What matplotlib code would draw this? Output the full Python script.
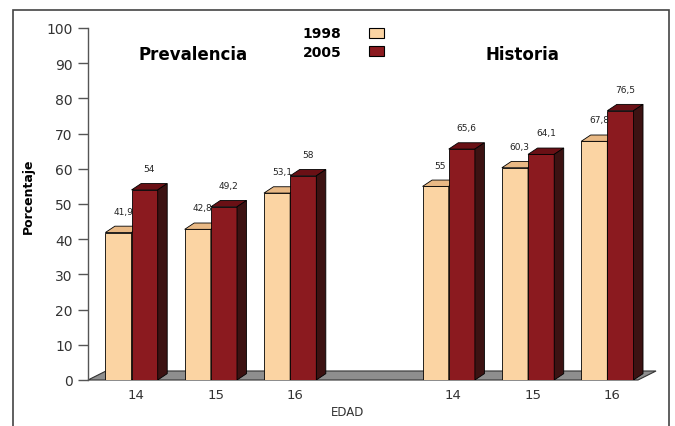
import numpy as np
import matplotlib.pyplot as plt
from matplotlib.patches import Polygon, Rectangle, Patch

plt.rcParams['font.family'] = 'DejaVu Sans'

# data
edades = ['14', '15', '16', '14', '15', '16']
posiciones = np.array([0, 1, 2, 4, 5, 6])
grupos = ['Prevalencia', 'Historia']
v1998 = [41.9, 42.8, 53.1, 55.0, 60.3, 67.8]
v2005 = [54.0, 49.2, 58.0, 65.6, 64.1, 76.5]
etq1998 = ['41,9', '42,8', '53,1', '55', '60,3', '67,8']
etq2005 = ['54', '49,2', '58', '65,6', '64,1', '76,5']

c_light, c_light_top = '#fbd4a3', '#e9b985'
c_dark, c_dark_top, c_dark_side = '#8b1a1f', '#6a1015', '#3c1212'

W = 0.33
dx, dy = 0.12, 1.8

fig = plt.figure(figsize=(6.75, 4.27), dpi=100)
ax = fig.add_axes([88 / 675, 46 / 427, 580 / 675, 352 / 427])
xmin, xmax = -0.549, 6.765
ax.set_xlim(xmin, xmax)
ax.set_ylim(0, 100)

# gray floor
xf = 6.387
fdx, fdy = 0.227, 2.56
ax.add_patch(Polygon([(xmin, 0), (xf, 0), (xf + fdx, fdy), (xmin + fdx, fdy)],
                     closed=True, facecolor='#8e8e8e', edgecolor='#333333',
                     linewidth=0.8, zorder=1, clip_on=False))

def bar3d(x0, v, face, top, side, z):
    ax.bar(x0, v, W, align='edge', color=face, edgecolor='black', linewidth=0.6, zorder=z)
    ax.add_patch(Polygon([(x0, v), (x0 + W, v), (x0 + W + dx, v + dy), (x0 + dx, v + dy)],
                         closed=True, facecolor=top, edgecolor='black', linewidth=0.6, zorder=z))
    ax.add_patch(Polygon([(x0 + W, 0), (x0 + W, v), (x0 + W + dx, v + dy), (x0 + W + dx, dy)],
                         closed=True, facecolor=side, edgecolor='black', linewidth=0.6, zorder=z))

for i, x in enumerate(posiciones):
    bar3d(x - W, v1998[i], c_light, c_light_top, c_light_top, 2)
    bar3d(x, v2005[i], c_dark, c_dark_top, c_dark_side, 3)
    ax.text(x - W / 2 + dx / 2, v1998[i] + dy + 3, etq1998[i], ha='center', va='bottom',
            fontsize=6.5, color='#222222')
    ax.text(x + W / 2 + dx / 2, v2005[i] + dy + 3, etq2005[i], ha='center', va='bottom',
            fontsize=6.5, color='#222222')

ax.set_xticks(posiciones + dx / 2)
ax.set_xticklabels(edades, fontsize=9.5, color='#333333')
ax.tick_params(axis='x', length=0, pad=6)
ax.set_yticks(np.arange(0, 101, 10))
ax.tick_params(axis='y', length=7, width=1, color='#555555', labelsize=10,
               labelcolor='#333333', pad=4)
for s in ['top', 'right', 'bottom']:
    ax.spines[s].set_visible(False)
ax.spines['left'].set_color('#555555')
ax.spines['left'].set_linewidth(1)

# group titles
fig.text(193 / 675, 1 - 55 / 427, grupos[0], ha='center', va='center',
         fontsize=12, fontweight='bold')
fig.text(522 / 675, 1 - 55 / 427, grupos[1], ha='center', va='center',
         fontsize=12, fontweight='bold')

fig.text(28 / 675, 1 - 196 / 427, 'Porcentaje', rotation=90, ha='center', va='center',
         fontsize=9, fontweight='bold')
fig.text(348 / 675, 1 - 413 / 427, 'EDAD', ha='center', va='center',
         fontsize=8.5, color='#333333')

handles = [Patch(facecolor=c_light, edgecolor='black', linewidth=0.8),
           Patch(facecolor=c_dark, edgecolor='black', linewidth=0.8)]
fig.legend(handles, ['1998', '2005'], loc='upper left', bbox_to_anchor=(290 / 675, 1 - 15 / 427),
           frameon=False, markerfirst=False, handlelength=1.1, handleheight=0.7,
           handletextpad=2.0, labelspacing=0.3, prop={'weight': 'bold', 'size': 10})

# outer frame
fig.add_artist(Rectangle((13 / 675, -0.1), 656 / 675, 1.1 - 11 / 427,
                         transform=fig.transFigure, fill=False, edgecolor='#444444',
                         linewidth=1.2))

fig.savefig('out.png', dpi=100)
